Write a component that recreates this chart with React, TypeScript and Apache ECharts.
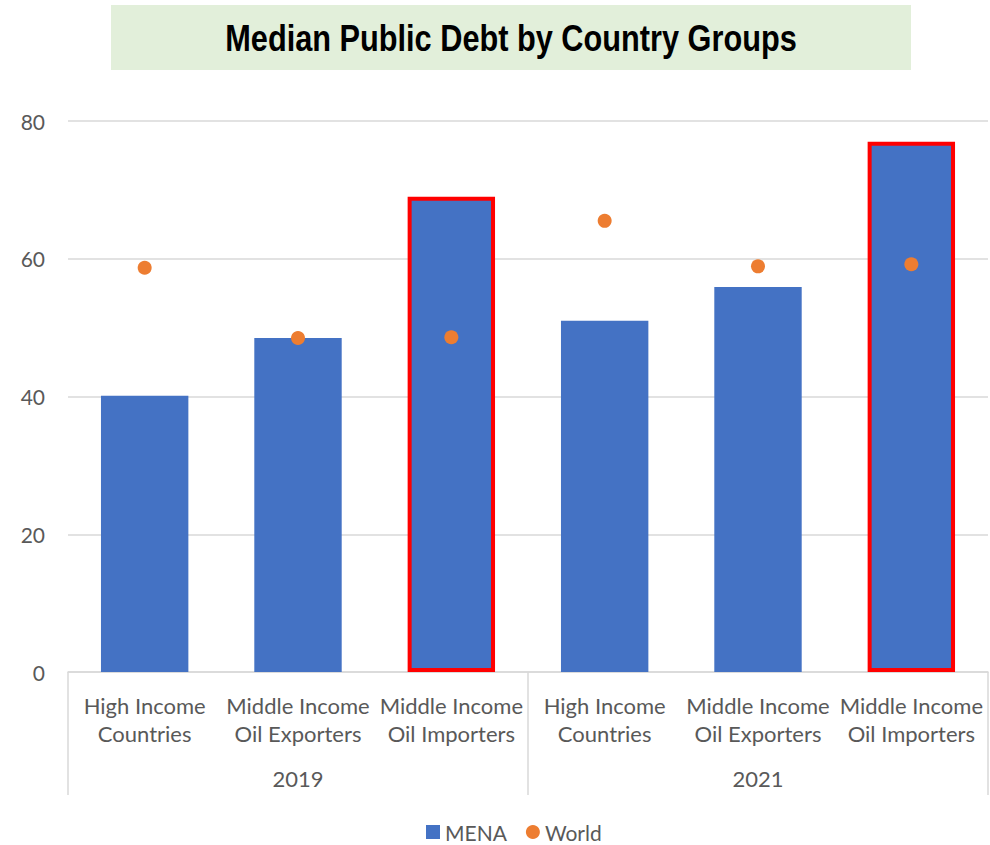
import React, { useEffect, useRef } from "react";
import * as echarts from "echarts";

const categories = [
  "High Income\nCountries",
  "Middle Income\nOil Exporters",
  "Middle Income\nOil Importers",
  "High Income\nCountries",
  "Middle Income\nOil Exporters",
  "Middle Income\nOil Importers",
];
const years = ["2019", "2021"];
const menaValues = [40.1, 48.5, 69.0, 51.0, 55.9, 77.0];
const worldValues = [58.7, 48.5, 48.6, 65.5, 58.9, 59.2];
const highlighted = [false, false, true, false, false, true];
const yTicks = { min: 0, max: 80, interval: 20 };
const titleText = "Median Public Debt by Country Groups";

const LABEL_FONT = "Lato, 'Open Sans', sans-serif";

export default function App() {
  const ref = useRef<HTMLDivElement>(null);
  useEffect(() => {
    if (!ref.current) return;
    const chart = echarts.init(ref.current, undefined, { renderer: "svg" });
    chart.setOption({
      animation: false,
      backgroundColor: "#ffffff",
      graphic: [
        {
          type: "rect",
          shape: { x: 111, y: 5, width: 800, height: 65 },
          style: { fill: "#E2EFDA" },
          z: 0,
        },
        {
          type: "text",
          x: 511,
          y: 38,
          scaleX: 0.83,
          style: {
            text: titleText,
            fontFamily: "'Liberation Sans', Arial, sans-serif",
            fontWeight: "bold",
            fontSize: 37,
            fill: "#000000",
            align: "center",
            verticalAlign: "middle",
          },
          z: 5,
        },
      ],
      legend: {
        top: 821,
        left: 426,
        padding: 0,
        itemWidth: 14,
        itemHeight: 14,
        itemGap: 19,
        textStyle: { fontFamily: LABEL_FONT, fontSize: 21, lineHeight: 22, color: "#595959" },
        data: [
          { name: "MENA", icon: "rect" },
          { name: "World", icon: "circle" },
        ],
      },
      grid: { left: 68, right: 2, top: 121, bottom: 173, containLabel: false },
      xAxis: [
        {
          type: "category",
          data: categories,
          position: "bottom",
          axisLine: { show: true, lineStyle: { color: "#D9D9D9", width: 1.5 } },
          axisTick: { show: false },
          axisLabel: {
            interval: 0,
            margin: 19,
            fontFamily: LABEL_FONT,
            fontSize: 22,
            lineHeight: 28,
            color: "#595959",
          },
        },
        {
          type: "category",
          data: years,
          position: "bottom",
          axisLine: { show: false },
          axisTick: {
            show: true,
            alignWithLabel: false,
            length: 123,
            lineStyle: { color: "#D9D9D9", width: 1.5 },
          },
          axisLabel: {
            interval: 0,
            margin: 95,
            fontFamily: LABEL_FONT,
            fontSize: 22,
            color: "#595959",
          },
        },
      ],
      yAxis: {
        type: "value",
        min: yTicks.min,
        max: yTicks.max,
        interval: yTicks.interval,
        axisLine: { show: false },
        axisTick: { show: false },
        splitLine: { lineStyle: { color: "#D9D9D9", width: 1.5 } },
        axisLabel: {
          margin: 23,
          fontFamily: LABEL_FONT,
          fontSize: 21,
          color: "#595959",
        },
      },
      series: [
        {
          name: "MENA",
          type: "bar",
          xAxisIndex: 0,
          barWidth: "57%",
          itemStyle: { color: "#4472C4" },
          data: menaValues.map((v, i) =>
            highlighted[i]
              ? { value: v, itemStyle: { color: "#4472C4", borderColor: "#FF0000", borderWidth: 4 } }
              : v
          ),
          z: 2,
        },
        {
          name: "World",
          type: "scatter",
          xAxisIndex: 0,
          symbol: "circle",
          symbolSize: 14,
          itemStyle: { color: "#ED7D31", opacity: 1 },
          data: worldValues,
          z: 3,
        },
      ],
    });
    return () => chart.dispose();
  }, []);
  return <div ref={ref} style={{ width: 990, height: 845, position: "absolute", left: 0, top: 0 }} />;
}
